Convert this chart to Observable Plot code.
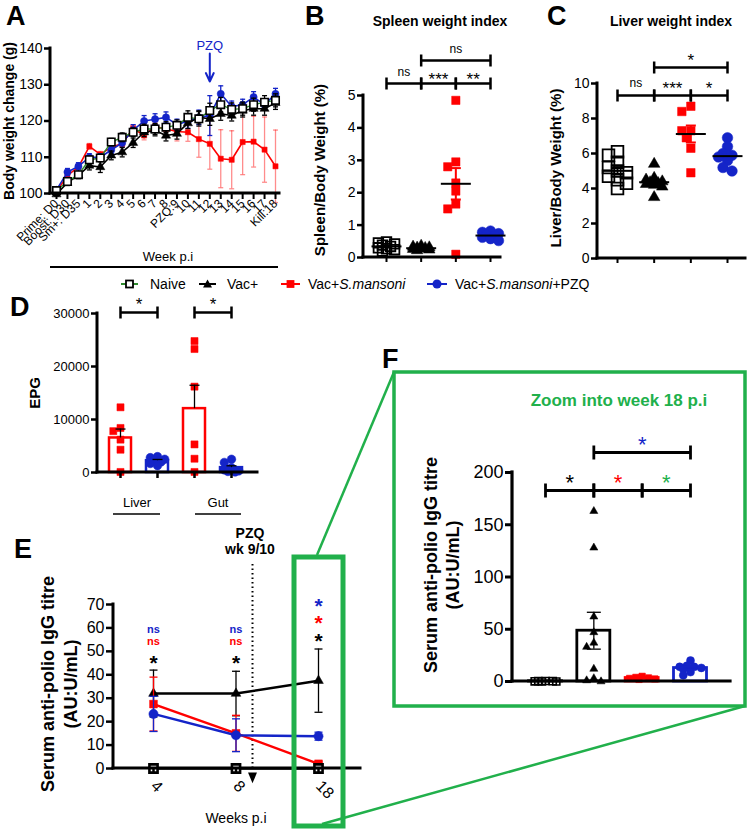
<!DOCTYPE html>
<html><head><meta charset="utf-8">
<script src="https://cdn.jsdelivr.net/npm/d3@7"></script>
<script src="https://cdn.jsdelivr.net/npm/@observablehq/plot@0.6"></script>
<style>
body{margin:0;background:#fff;}
#fig{position:relative;width:750px;height:830px;overflow:hidden;background:#fff;}
#fig svg{position:absolute;}
</style></head><body><div id="fig"></div>
<script>
// ---------------- DATA ----------------
const weekLabelsA = ["Prime: D0","Boost: D30","Sm+: D35","1","2","3","4","5","6","7","8","PZQ:9","10","11","12","13","14","15","16","17","Kill:18"];
const naiveA = [100.8,103.3,105.2,109.3,109.8,114.2,115.5,116.9,117.8,117.8,118.3,118.8,121.0,120.6,122.9,124.5,123.2,123.4,124.5,125.2,125.7];
const naiveA_sem = [0.6,0.7,0.8,1.0,1.0,1.0,1.2,1.2,1.3,1.5,1.5,1.5,1.8,2.0,2.0,2.0,1.8,1.8,1.8,1.8,1.8];
const vacA = [99.8,103.0,105.0,107.7,107.3,110.5,111.4,114.0,116.9,117.4,116.0,116.5,119.4,121.0,120.6,122.0,121.5,122.9,123.4,123.4,125.0];
const vacA_sem = [0.5,0.8,0.9,1.2,1.5,1.2,1.3,1.3,1.2,1.5,1.5,1.5,1.5,1.8,1.8,1.8,1.5,1.8,1.8,1.8,1.8];
const smA = [100.5,105.0,107.3,113.0,110.8,112.8,113.7,118.0,116.0,118.5,117.8,117.1,116.9,115.0,113.7,109.6,109.3,114.2,114.3,112.1,107.5];
const smA_sem = [0.5,0.8,0.8,0.8,0.8,0.8,0.8,1.0,1.2,1.2,1.5,2.6,2.5,5,7,8,8,9,7,9,10];
const pzqA = [101,105.9,107.5,110,110,112,114,117.5,120,120.5,121,119,120,121,121.5,127.5,124,124.5,126.6,124.5,127.5];
const pzqA_sem = [0.8,1,1,1,1,1,1.2,1.5,1.5,1.5,1.5,1.5,2,2,5.5,2.2,1.5,1.5,1.5,1.5,1.5];
const pzqArrowIdx = 14;
const ticksA = [100,110,120,130,140];

const groups = ["Naive","Vac+","Vac+S.mansoni","Vac+S.mansoni+PZQ"];
const spleenNaive = [0.48,0.45,0.42,0.38,0.34,0.30,0.27,0.24,0.20];
const spleenVac = [0.36,0.33,0.31,0.30,0.29,0.27,0.26,0.24,0.22];
const spleenSm = [4.85,2.95,2.8,2.3,2.05,1.65,1.5,0.1];
const spleenPzq = [0.82,0.78,0.74,0.70,0.66,0.62,0.58,0.52];
const ticksB = [0,1,2,3,4,5];
const sigB = [{a:0,b:1,level:"low",label:"ns"},{a:1,b:2,level:"low",label:"***"},{a:2,b:3,level:"low",label:"**"},{a:1,b:3,level:"high",label:"ns"}];

const liverNaive = [6.1,5.9,5.5,5.2,5.0,4.9,4.7,4.5,4.3,4.0];
const liverVac = [5.4,4.6,4.5,4.4,4.35,4.3,4.25,4.2,4.1,3.5];
const liverSm = [8.7,8.4,7.3,7.3,6.9,6.3,4.9];
const liverPzq = [6.9,6.4,6.0,5.9,5.8,5.6,5.2,5.0];
const ticksC = [0,2,4,6,8,10];
const sigC = [{a:0,b:1,level:"low",label:"ns"},{a:1,b:2,level:"low",label:"***"},{a:2,b:3,level:"low",label:"*"},{a:1,b:3,level:"high",label:"*"}];

const epgSites = ["Liver","Gut"];
const epgLiverSm = [12300,8400,7800,6200,4300,100];
const epgLiverPzq = [3000,2800,2500,2300,2000,1700,1300];
const epgGutSm = [24800,23300,16200,5300,2600,100];
const epgGutPzq = [2500,1900,900,500,300,200,100];
const ticksD = [0,10000,20000,30000];
const sigD = [{a:0,b:1,level:"low",label:"*"},{a:2,b:3,level:"low",label:"*"}];

const weeksE = ["4","8","18"];
const titreNaive = [0,0,0];
const titreVac = [32,32,37.5], titreVac_sem = [10,9.5,13.5];
const titreSm = [27.5,15,2], titreSm_sem = [11.5,7.7,0.8];
const titrePzq = [23.3,14.2,13.8], titrePzq_sem = [7.5,7,1.7];
const pzqWeekIdxE = 1.2;
const ticksE = [0,10,20,30,40,50,60,70];
const sigE = [
  {week:0,label:"ns",series:"pzq"},{week:0,label:"ns",series:"sm"},{week:0,label:"*",series:"vac"},
  {week:1,label:"ns",series:"pzq"},{week:1,label:"ns",series:"sm"},{week:1,label:"*",series:"vac"},
  {week:2,label:"*",series:"pzq"},{week:2,label:"*",series:"sm"},{week:2,label:"*",series:"vac"}];

const wk18Naive = [0.5,0.4,0.3,0.2,0.1,0];
const wk18Vac = [163,128,62,47,37,33,12,3,1,0];
const wk18Sm = [5,4,3.5,3,2.5,2];
const wk18Pzq = [20,15,14,14,13,12,9,6];
const ticksF = [0,50,100,150,200];
const sigF = [{a:0,b:1,level:"low",label:"*",series:"vac"},{a:1,b:2,level:"low",label:"*",series:"sm"},{a:2,b:3,level:"low",label:"*",series:"green"},{a:1,b:3,level:"high",label:"*",series:"pzq"}];

// ---------------- STYLE / HELPERS ----------------
const FONT = '"Liberation Sans", Arial, Helvetica, sans-serif';
const RED = "#ff0000", BLUE = "#1424c8", GREEN = "#21b04b", NAIVE_LINE = "#2e8b2e";
const COLORS = {vac:"black", naive:"black", sm:RED, pzq:BLUE, green:GREEN};
const fig = document.getElementById("fig");

function makeGeom(g) {
  const ml = g.axisX - g.left, mt = g.yTop - g.top, mb = g.top + g.height - g.yBot, mr = g.left + g.width - g.xEnd;
  const pxPerIdx = (g.c1 - g.c0) / (g.n - 1);
  const pxPerUnit = (g.yBot - g.yTop) / (g.ymax - g.ymin);
  return {...g, ml, mt, mb, mr, pxPerIdx, pxPerUnit,
    xr: [g.c0 - g.left, g.c1 - g.left], xd: [0, g.n - 1],
    val: py => g.ymin + (g.yBot - py) / pxPerUnit,
    dv: px => px / pxPerUnit, di: px => px / pxPerIdx};
}
function axisLines(G, sw) {
  return () => {
    const g = d3.create("svg:g").attr("stroke","black").attr("stroke-width",sw).attr("stroke-linecap","square");
    g.append("line").attr("x1",G.ml).attr("x2",G.ml).attr("y1",G.mt).attr("y2",G.height-G.mb);
    g.append("line").attr("x1",G.ml).attr("x2",G.width-G.mr).attr("y1",G.height-G.mb).attr("y2",G.height-G.mb);
    return g.node();
  };
}
function panel(G, marks, sw = 2.5) {
  const svg = Plot.plot({
    width: G.width, height: G.height,
    marginLeft: G.ml, marginRight: G.mr, marginTop: G.mt, marginBottom: G.mb,
    x: {domain: G.xd, range: G.xr, label: null},
    y: {domain: [G.ymin, G.ymax], label: null},
    style: {background: "transparent", overflow: "visible", fontFamily: FONT, color: "black"},
    marks: [...marks, axisLines(G, sw)]
  });
  svg.style.position = "absolute"; svg.style.left = G.left + "px"; svg.style.top = G.top + "px";
  fig.appendChild(svg);
}
function errMarks(rows, G, capPx, style, lowCap = true) {
  const hw = G.di(capPx / 2);
  const m = [
    Plot.ruleX(rows, {x: "x", y1: "lo", y2: "hi", ...style}),
    Plot.link(rows, {x1: d => d.x - hw, x2: d => d.x + hw, y1: "hi", y2: "hi", ...style})
  ];
  if (lowCap) m.push(Plot.link(rows, {x1: d => d.x - hw, x2: d => d.x + hw, y1: "lo", y2: "lo", ...style}));
  return m;
}
// compact beeswarm: spreads overlapping points sideways, never beyond maxPx
function swarm(values, G, diam, maxPx) {
  const order = d3.range(values.length).sort((a, b) => d3.descending(values[a], values[b]));
  const placed = [], off = new Array(values.length).fill(0);
  const step = diam * 0.45;
  for (const i of order) {
    const y = values[i] * G.pxPerUnit;
    let best = 0, bestD = -1;
    for (let k = 0; k < 40; k++) {
      const x = k === 0 ? 0 : (k % 2 ? -1 : 1) * Math.ceil(k / 2) * step;
      if (Math.abs(x) > maxPx) break;
      const d = placed.length ? d3.min(placed, p => Math.hypot(p.x - x, p.y - y)) : Infinity;
      if (d >= diam * 0.75) { best = x; bestD = d; break; }
      if (d > bestD) { bestD = d; best = x; }
    }
    off[i] = best; placed.push({x: best, y});
  }
  return off.map(o => G.di(o));
}
function sem(v) { return d3.deviation(v) / Math.sqrt(v.length); }
function brackets(sig, G, levels, o) {
  const rows = sig.map(s => ({...s, y: G.val(levels[s.level])}));
  const ends = rows.flatMap(r => [{x: r.a, y: r.y}, {x: r.b, y: r.y}]);
  const dt = G.dv(o.tick || 6);
  const marks = [
    Plot.link(rows, {x1: "a", x2: "b", y1: "y", y2: "y", stroke: "black", strokeWidth: o.sw || 2.5}),
    Plot.link(ends, {x1: "x", x2: "x", y1: d => d.y - dt, y2: d => d.y + dt, stroke: "black", strokeWidth: o.sw || 2.5})
  ];
  for (const r of rows) {
    const isNs = r.label === "ns";
    const fs = isNs ? o.nsSize : o.stSize;
    const gap = isNs ? o.nsGap : o.stGap;
    marks.push(Plot.text([r], {x: d => (d.a + d.b) / 2, y: "y", text: "label", fontSize: fs, lineAnchor: "middle",
      dy: isNs ? -gap - 0.06 * fs : -gap + 0.26 * fs, fill: COLORS[r.series] || "black", fontWeight: o.weight || 400}));
  }
  return marks;
}

// ---------------- PANEL A ----------------
const GA = makeGeom({left:0, top:0, width:300, height:300, axisX:50, yTop:48, yBot:193, xEnd:279, c0:56, c1:275, n: weekLabelsA.length, ymin:100, ymax:140});
const seriesA = [
  {v: smA, e: smA_sem, line: RED, err: RED, eo: 0.45, sym: "square", r: 2.9, fill: RED, stroke: RED, lw: 1.6},
  {v: pzqA, e: pzqA_sem, line: BLUE, err: BLUE, eo: 1, sym: "circle", r: 3.6, fill: BLUE, stroke: BLUE, lw: 1.6},
  {v: vacA, e: vacA_sem, line: "black", err: "black", eo: 1, sym: "triangle", r: 3.4, fill: "black", stroke: "black", lw: 1.6},
  {v: naiveA, e: naiveA_sem, line: NAIVE_LINE, err: "black", eo: 1, sym: "square", r: 4.2, fill: "white", stroke: "black", lw: 1.4}
];
const marksA = [];
for (const s of seriesA) {
  const rows = s.v.map((v, i) => ({x: i, v, lo: v - s.e[i], hi: v + s.e[i]}));
  marksA.push(...errMarks(rows, GA, 5, {stroke: s.err, strokeOpacity: s.eo, strokeWidth: 1.3}));
  marksA.push(Plot.line(rows, {x: "x", y: "v", stroke: s.line, strokeWidth: s.lw}));
  marksA.push(Plot.dot(rows, {x: "x", y: "v", symbol: s.sym, r: s.r, fill: s.fill, stroke: s.stroke, strokeWidth: s.fill === "white" ? 1.6 : 0.5}));
}
marksA.push(
  Plot.text(["PZQ"], {x: pzqArrowIdx, y: GA.val(45), text: d => d, fill: BLUE, fontSize: 13, lineAnchor: "middle"}),
  Plot.arrow([0], {x1: pzqArrowIdx, x2: pzqArrowIdx, y1: GA.val(53), y2: GA.val(81), stroke: BLUE, strokeWidth: 2, headLength: 9, headAngle: 50}),
  Plot.axisY({ticks: ticksA, tickSize: 6, strokeWidth: 2.5, fontSize: 14, label: null, tickPadding: 2}),
  Plot.axisX({ticks: d3.range(weekLabelsA.length), tickFormat: i => weekLabelsA[i], tickRotate: -45, tickSize: 6, strokeWidth: 2, fontSize: 12, label: null, tickPadding: 2})
);
panel(GA, marksA, 3);

// ---------------- PANELS B & C ----------------
function scatterPanel(G, sets, yTicks, sig, levels, bopt, maxPx) {
  const marks = [];
  sets.forEach((s, gi) => {
    const off = swarm(s.vals, G, s.diam, maxPx);
    const rows = s.vals.map((v, i) => ({x: gi + off[i], v}));
    marks.push(Plot.dot(rows, {x: "x", y: "v", symbol: s.sym, r: s.r, fill: s.fill, stroke: s.stroke, strokeWidth: s.sw}));
  });
  sets.forEach((s, gi) => {
    const m = d3.mean(s.vals), e = sem(s.vals);
    marks.push(...errMarks([{x: gi, lo: m - e, hi: m + e}], G, 10, {stroke: s.errColor, strokeWidth: 2}));
    marks.push(Plot.link([{m}], {x1: gi - G.di(15), x2: gi + G.di(15), y1: "m", y2: "m", stroke: "black", strokeWidth: 2}));
  });
  marks.push(...brackets(sig, G, levels, bopt));
  marks.push(
    Plot.axisY({ticks: yTicks, tickFormat: d3.format("d"), tickSize: 6, strokeWidth: 2.5, fontSize: 14, label: null, tickPadding: 2}),
    Plot.axisX({ticks: d3.range(4), tickFormat: () => "", tickSize: 5, strokeWidth: 2, label: null})
  );
  panel(G, marks, 3);
}
const GB = makeGeom({left:280, top:20, width:230, height:250, axisX:363, yTop:95, yBot:257, xEnd:500, c0:386, c1:490, n:4, ymin:0, ymax:5});
scatterPanel(GB, [
  {vals: spleenNaive, sym: "square", r: 5.4, fill: "none", stroke: "black", sw: 1.8, diam: 9, errColor: "black"},
  {vals: spleenVac, sym: "triangle", r: 4.3, fill: "black", stroke: "black", sw: 0.5, diam: 9, errColor: "black"},
  {vals: spleenSm, sym: "square", r: 4.7, fill: RED, stroke: RED, sw: 0.5, diam: 9, errColor: RED},
  {vals: spleenPzq, sym: "circle", r: 5.2, fill: BLUE, stroke: BLUE, sw: 0.5, diam: 9, errColor: BLUE}
], ticksB, sigB, {low: 83, high: 60}, {nsSize: 12, stSize: 17, nsGap: 10.5, stGap: 8}, 11);

const GC = makeGeom({left:530, top:20, width:220, height:250, axisX:597, yTop:83, yBot:258, xEnd:745, c0:617, c1:727, n:4, ymin:0, ymax:10});
scatterPanel(GC, [
  {vals: liverNaive, sym: "square", r: 6.6, fill: "none", stroke: "black", sw: 1.8, diam: 10, errColor: "black"},
  {vals: liverVac, sym: "triangle", r: 4.3, fill: "black", stroke: "black", sw: 0.5, diam: 9, errColor: "black"},
  {vals: liverSm, sym: "square", r: 4.8, fill: RED, stroke: RED, sw: 0.5, diam: 10, errColor: RED},
  {vals: liverPzq, sym: "circle", r: 5.3, fill: BLUE, stroke: BLUE, sw: 0.5, diam: 10, errColor: BLUE}
], ticksC, sigC, {low: 95, high: 67}, {nsSize: 12, stSize: 17, nsGap: 12, stGap: 11}, 11);

// ---------------- PANEL D ----------------
const GD = makeGeom({left:40, top:280, width:230, height:210, axisX:97, yTop:313, yBot:472, xEnd:257, c0:120, c1:231, n:4, ymin:0, ymax:30000});
{
  const sets = [
    {vals: epgLiverSm, color: RED, sym: "square", r: 4.0},
    {vals: epgLiverPzq, color: BLUE, sym: "circle", r: 4.3},
    {vals: epgGutSm, color: RED, sym: "square", r: 4.0},
    {vals: epgGutPzq, color: BLUE, sym: "circle", r: 4.3}
  ];
  const marks = [];
  const hw = GD.di(11);
  sets.forEach((s, gi) => {
    const m = d3.mean(s.vals);
    marks.push(Plot.rect([{m}], {x1: gi - hw, x2: gi + hw, y1: 0, y2: "m", fill: "none", stroke: s.color, strokeWidth: 2.5}));
  });
  sets.forEach((s, gi) => {
    const off = swarm(s.vals, GD, 8, 10);
    const rows = s.vals.map((v, i) => ({x: gi + off[i], v}));
    marks.push(Plot.dot(rows, {x: "x", y: "v", symbol: s.sym, r: s.r, fill: s.color, stroke: s.color, strokeWidth: 0.5}));
  });
  sets.forEach((s, gi) => {
    const m = d3.mean(s.vals), e = sem(s.vals);
    marks.push(...errMarks([{x: gi, lo: m, hi: m + e}], GD, 10, {stroke: "black", strokeWidth: 1.3}, false));
  });
  marks.push(...brackets(sigD, GD, {low: 312}, {nsSize: 12, stSize: 17, nsGap: 10, stGap: 12}));
  marks.push(
    Plot.axisY({ticks: ticksD, tickFormat: d3.format("d"), tickSize: 6, strokeWidth: 2.5, fontSize: 13, label: null, tickPadding: 2}),
    Plot.axisX({ticks: d3.range(4), tickFormat: () => "", tickSize: 6, strokeWidth: 2.5, label: null})
  );
  panel(GD, marks, 3);
}

// ---------------- PANEL E ----------------
const GE = makeGeom({left:60, top:520, width:310, height:290, axisX:113, yTop:604, yBot:768, xEnd:360, c0:153, c1:318, n:3, ymin:0, ymax:70});
{
  const triDown = {draw(ctx, size) { const a = Math.sqrt(size) * 0.6; ctx.moveTo(-a, -a * 1.1); ctx.lineTo(a, -a * 1.1); ctx.lineTo(0, a * 1.3); ctx.closePath(); }};
  const marks = [
    Plot.ruleX([pzqWeekIdxE], {x: d => d, y1: 0, y2: GE.val(563), stroke: "black", strokeWidth: 2, strokeDasharray: "1.5,3"}),
    Plot.dot([pzqWeekIdxE], {x: d => d, y: GE.val(777), symbol: triDown, r: 4.2, fill: "black"})
  ];
  const series = [
    {v: titreVac, e: titreVac_sem, color: "black", sym: "triangle", r: 3.6, fill: "black"},
    {v: titreSm, e: titreSm_sem, color: RED, sym: "square", r: 4.4, fill: RED},
    {v: titrePzq, e: titrePzq_sem, color: BLUE, sym: "circle", r: 4.6, fill: BLUE},
    {v: titreNaive, e: null, color: "black", sym: "square", r: 4.6, fill: "white"}
  ];
  for (const s of series) {
    const rows = s.v.map((v, i) => ({x: i, v, lo: v - (s.e ? s.e[i] : 0), hi: v + (s.e ? s.e[i] : 0)}));
    if (s.e) marks.push(...errMarks(rows, GE, 8, {stroke: s.color, strokeWidth: 1.3}));
    marks.push(Plot.line(rows, {x: "x", y: "v", stroke: s.color, strokeWidth: 2.5}));
    const white = s.fill === "white";
    marks.push(Plot.dot(rows, {x: "x", y: "v", symbol: s.sym, r: s.r, fill: s.fill, stroke: white ? "black" : s.fill, strokeWidth: white ? 2.6 : 0.5}));
  }
  const sigPx = {early: {pzq: 630, sm: 642, vac: 657}, late: {pzq: 600, sm: 617, vac: 635}};
  for (const s of sigE) {
    const py = sigPx[s.week < 2 ? "early" : "late"][s.series];
    const isNs = s.label === "ns";
    const fs = isNs ? 11 : 21;
    marks.push(Plot.text([s], {x: "week", y: () => GE.val(py), text: "label", fill: COLORS[s.series], fontSize: fs, fontWeight: 700,
      lineAnchor: "middle", dy: isNs ? -0.7 : 0.26 * fs}));
  }
  marks.push(
    Plot.axisY({ticks: ticksE, tickSize: 7, strokeWidth: 2.5, fontSize: 16, label: null, tickPadding: 2}),
    Plot.axisX({ticks: d3.range(3), tickFormat: i => weeksE[i], tickRotate: 45, tickSize: 6, strokeWidth: 2.5, fontSize: 16, label: null, tickPadding: 9})
  );
  panel(GE, marks, 3);
}

// ---------------- PANEL F ----------------
const GF = makeGeom({left:400, top:390, width:345, height:310, axisX:512, yTop:472, yBot:681, xEnd:730, c0:545, c1:690, n:4, ymin:0, ymax:200});
{
  const sets = [
    {vals: wk18Naive, color: "black", sym: "square", r: 4.0, fill: "none", sw: 1.6, diam: 8},
    {vals: wk18Vac, color: "black", sym: "triangle", r: 3.0, fill: "black", sw: 0.5, diam: 8},
    {vals: wk18Sm, color: RED, sym: "square", r: 3.6, fill: RED, sw: 0.5, diam: 7},
    {vals: wk18Pzq, color: BLUE, sym: "circle", r: 4.0, fill: BLUE, sw: 0.5, diam: 8}
  ];
  const marks = [];
  const hw = GF.di(16.5);
  sets.forEach((s, gi) => {
    const m = d3.mean(s.vals);
    marks.push(Plot.rect([{m}], {x1: gi - hw, x2: gi + hw, y1: 0, y2: "m", fill: "none", stroke: s.color, strokeWidth: 2.8}));
  });
  sets.forEach((s, gi) => {
    const off = swarm(s.vals, GF, s.diam, 13);
    const rows = s.vals.map((v, i) => ({x: gi + off[i], v}));
    marks.push(Plot.dot(rows, {x: "x", y: "v", symbol: s.sym, r: s.r, fill: s.fill, stroke: s.color, strokeWidth: s.sw}));
  });
  sets.forEach((s, gi) => {
    const m = d3.mean(s.vals), e = sem(s.vals);
    marks.push(...errMarks([{x: gi, lo: m - e, hi: m + e}], GF, 14, {stroke: s.color, strokeWidth: 1.3}));
  });
  marks.push(...brackets(sigF, GF, {low: 490, high: 452}, {nsSize: 12, stSize: 22, nsGap: 10, stGap: 13.5, sw: 2.8, tick: 7}));
  marks.push(
    Plot.axisY({ticks: ticksF, tickSize: 7, strokeWidth: 3, fontSize: 18, label: null, tickPadding: 2}),
    Plot.axisX({ticks: d3.range(4), tickFormat: () => "", tickSize: 0, strokeWidth: 3, label: null})
  );
  panel(GF, marks, 3.2);
}

// ---------------- OVERLAY (letters, titles, legend, highlight box) ----------------
const ov = d3.select("#fig").append("svg").attr("width", 750).attr("height", 830)
  .style("left", "0px").style("top", "0px").attr("font-family", FONT);
function txt(x, y, s, o = {}) {
  const t = ov.append("text").attr("x", x).attr("y", y).attr("font-size", o.size || 14)
    .attr("font-weight", o.weight || 400).attr("text-anchor", o.anchor || "middle").attr("fill", o.fill || "black");
  if (o.rotate) t.attr("transform", `rotate(${o.rotate},${x},${y})`);
  if (Array.isArray(s)) s.forEach(p => t.append("tspan").attr("font-style", p.italic ? "italic" : null).text(p.t));
  else t.text(s);
  return t;
}
// green highlight + connectors
const gz = ov.append("g").attr("fill", "none").attr("stroke", GREEN);
gz.append("line").attr("x1", 317).attr("y1", 555).attr("x2", 394).attr("y2", 372).attr("stroke-width", 2.5);
gz.append("line").attr("x1", 322).attr("y1", 824).attr("x2", 745).attr("y2", 706).attr("stroke-width", 2.5);
gz.append("rect").attr("x", 294).attr("y", 557).attr("width", 49).attr("height", 269).attr("stroke-width", 5);
gz.append("rect").attr("x", 394).attr("y", 372).attr("width", 351).attr("height", 334).attr("stroke-width", 3.5).attr("fill", "none");

// panel letters
[["A", 6, 25], ["B", 305, 25], ["C", 547, 25], ["D", 10, 316], ["E", 14, 558], ["F", 382, 368]]
  .forEach(([l, x, y]) => txt(x, y, l, {size: 27, weight: 700, anchor: "start"}));
// titles
txt(440, 26, "Spleen weight index", {size: 14, weight: 700});
txt(671, 26, "Liver weight index", {size: 14, weight: 700});
txt(619, 406, "Zoom into week 18 p.i", {size: 17, weight: 700, fill: GREEN});
// axis titles
txt(14, 121, "Body weight change (g)", {size: 14, weight: 700, rotate: -90});
txt(325, 170, "Spleen/Body Weight (%)", {size: 15, weight: 700, rotate: -90});
txt(561, 168, "Liver/Body Weight (%)", {size: 15, weight: 700, rotate: -90});
txt(40, 393, "EPG", {size: 15, weight: 700, rotate: -90});
txt(54, 684, "Serum anti-polio IgG titre", {size: 18, weight: 700, rotate: -90});
txt(77, 684, "(AU:U/mL)", {size: 18, weight: 700, rotate: -90});
txt(437, 565, "Serum anti-polio IgG titre", {size: 18, weight: 700, rotate: -90});
txt(459, 565, "(AU:U/mL)", {size: 18, weight: 700, rotate: -90});
// x titles
txt(168, 261, "Week p.i", {size: 13});
ov.append("line").attr("x1", 50).attr("x2", 278).attr("y1", 267).attr("y2", 267).attr("stroke", "black").attr("stroke-width", 2);
txt(137, 507, epgSites[0], {size: 13});
txt(218, 507, epgSites[1], {size: 13});
ov.append("line").attr("x1", 113).attr("x2", 160).attr("y1", 514).attr("y2", 514).attr("stroke", "black").attr("stroke-width", 1.5);
ov.append("line").attr("x1", 195).attr("x2", 241).attr("y1", 514).attr("y2", 514).attr("stroke", "black").attr("stroke-width", 1.5);
txt(236, 823, "Weeks p.i", {size: 14});
txt(250, 538, "PZQ", {size: 14, weight: 700});
txt(250, 554, "wk 9/10", {size: 14, weight: 700});

// legend
const legendLabels = [[{t: groups[0]}], [{t: groups[1]}], [{t: "Vac+"}, {t: "S.mansoni", italic: true}], [{t: "Vac+"}, {t: "S.mansoni", italic: true}, {t: "+PZQ"}]];
const legendPos = [{x0: 121, x1: 138, tx: 150}, {x0: 199, x1: 216, tx: 227}, {x0: 281, x1: 300, tx: 308}, {x0: 427, x1: 447, tx: 455}];
const legStyle = [
  {line: NAIVE_LINE, shape: "sq", fill: "white", stroke: "black", s: 7},
  {line: "black", shape: "tri", fill: "black", stroke: "black", s: 9},
  {line: RED, shape: "sq", fill: RED, stroke: RED, s: 6},
  {line: BLUE, shape: "circ", fill: BLUE, stroke: BLUE, s: 9}
];
legendPos.forEach((p, i) => {
  const st = legStyle[i], cx = (p.x0 + p.x1) / 2, cy = 284;
  ov.append("line").attr("x1", p.x0).attr("x2", p.x1).attr("y1", cy).attr("y2", cy).attr("stroke", st.line).attr("stroke-width", 2);
  if (st.shape === "sq") ov.append("rect").attr("x", cx - st.s / 2).attr("y", cy - st.s / 2).attr("width", st.s).attr("height", st.s).attr("fill", st.fill).attr("stroke", st.stroke).attr("stroke-width", 1.8);
  if (st.shape === "tri") ov.append("path").attr("d", `M${cx - st.s / 2},${cy + st.s * 0.4}L${cx + st.s / 2},${cy + st.s * 0.4}L${cx},${cy - st.s * 0.5}Z`).attr("fill", st.fill);
  if (st.shape === "circ") ov.append("circle").attr("cx", cx).attr("cy", cy).attr("r", st.s / 2).attr("fill", st.fill);
  txt(p.tx, 289, legendLabels[i], {size: 14, anchor: "start"});
});
</script></body></html>
